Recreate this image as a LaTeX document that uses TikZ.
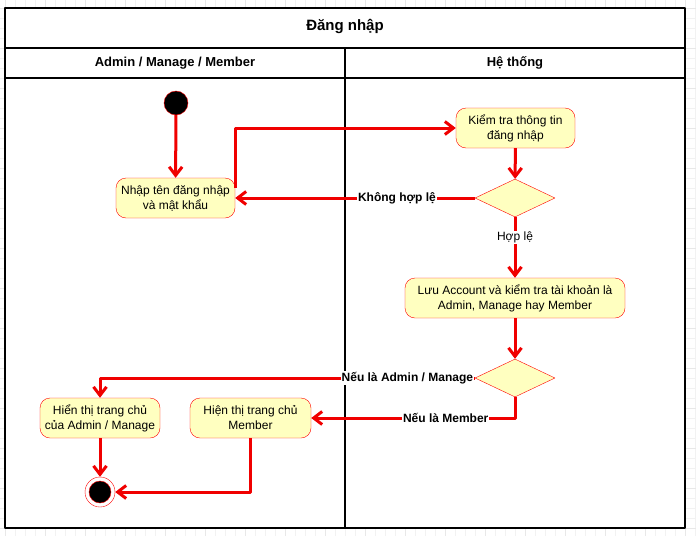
\documentclass[tikz,border=0pt]{standalone}
\usepackage{fontspec}
\setmainfont{Liberation Sans}
\usetikzlibrary{shapes.geometric,arrows.meta}
\definecolor{flowred}{RGB}{240,0,0}
\definecolor{actfill}{RGB}{255,255,192}

\begin{document}
\begin{tikzpicture}[x=1pt, y=-1pt, line join=round, font=\fontsize{12}{15}\selectfont,
	act/.style={draw=red, fill=actfill, rounded corners=10pt, align=center, minimum height=40pt, inner sep=2pt},
	choice/.style={diamond, draw=red, fill=actfill, minimum width=80pt, minimum height=38pt, inner sep=0pt},
	flow/.style={draw=flowred, line width=3pt, -{Straight Barb[length=8.5pt,width=13pt]}},
	lbl/.style={fill=white, inner sep=1pt, font=\fontsize{12}{14}\selectfont\bfseries},
	head/.style={font=\fontsize{13}{15}\selectfont\bfseries}]
			\def\xl{5}\def\xm{345}\def\xr{685}\def\yt{8}\def\yb{528}
			\useasboundingbox (0,0) rectangle (696,536);
			% grid behind the sheet
			\foreach \gx in {5,15,...,695} \draw[black!5, line width=0.6pt] (\gx,0)--(\gx,536);
			\foreach \gy in {8,18,...,536} \draw[black!5, line width=0.6pt] (0,\gy)--(696,\gy);
			\foreach \gx in {5,45,...,695} \draw[black!9, line width=0.8pt] (\gx,0)--(\gx,536);
			\foreach \gy in {8,48,...,536} \draw[black!9, line width=0.8pt] (0,\gy)--(696,\gy);
			
			% swimlanes
			\draw[fill=white, line width=1.3pt] (\xl,\yt) rectangle (\xr,\yb);
			\draw[line width=2pt] (\xl,48)--(\xr,48) (\xl,78)--(\xr,78) (\xm,48)--(\xm,\yb);
			\node[head, font=\fontsize{15}{17}\selectfont\bfseries] (title) at (345,26) {Đăng nhập};
			\node[head] (laneuser) at (175,63) {Admin / Manage / Member};
			\node[head] (lanesys) at (515,63) {Hệ thống};
			
			% activities
			\node[circle, fill=black, draw=red, minimum size=24pt, inner sep=0pt] (start) at (176,103) {};
			\node[act, minimum width=119pt] (nhap) at (175.5,198) {Nhập tên đăng nhập\\và mật khẩu};
			\node[act, minimum width=119pt] (kiemtra) at (515.5,128) {Kiểm tra thông tin\\đăng nhập};
			\node[choice] (hople) at (515,198) {};
			\node[act, minimum width=220pt] (luu) at (515,298) {Lưu Account và kiểm tra tài khoản là\\Admin, Manage hay Member};
			\node[choice] (vaitro) at (515,378) {};
			\node[act, minimum width=120pt] (trangadmin) at (100,418) {Hiển thị trang chủ\\của Admin / Manage};
			\node[act, minimum width=121pt] (trangmember) at (250.5,418) {Hiện thị trang chủ\\Member};
			\node[circle, draw=red, fill=white, minimum size=30pt, inner sep=0pt,
				path picture={\draw[red, fill=black] (path picture bounding box.center) circle (11pt);}] (end) at (100,492) {};
			
			% flows
			\draw[flow] (start)--(nhap);
			\draw[flow] ([yshift=10pt]nhap.east) |- (kiemtra.west);
			\draw[flow] (kiemtra)--(hople);
			\draw[flow] (hople.west)--(nhap.east) node[lbl, pos=0.325] {Không hợp lệ};
			\draw[flow] (hople.south)--(luu.north) node[pos=0.34, fill=white, inner sep=1pt] {Hợp lệ};
			\draw[flow] (luu)--(vaitro);
			\draw[flow] (vaitro.west) -| (trangadmin.north) node[lbl, pos=0.09] {Nếu là Admin / Manage};
			\draw[flow] (vaitro.south) |- (trangmember.east) node[lbl, pos=0.67] {Nếu là Member};
			\draw[flow] (trangadmin)--(end);
			\draw[flow] (trangmember.south) |- (end.east);
		\end{tikzpicture}
\end{document}
